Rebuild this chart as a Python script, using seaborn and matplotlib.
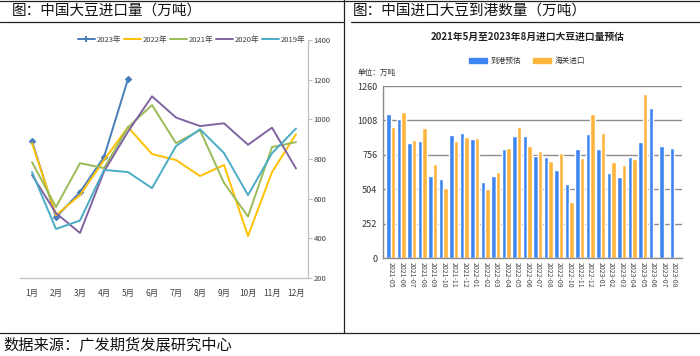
"""
中国大豆进口量 / 进口大豆到港数量 复刻
"""

import numpy as np
import pandas as pd
import matplotlib
matplotlib.use("Agg")
import matplotlib.pyplot as plt
from matplotlib.lines import Line2D
from matplotlib.patches import Patch
import seaborn as sns

sns.set_style("white")
plt.rcParams['font.family'] = ['Noto Sans CJK SC', 'DejaVu Sans']

# 左图：各年度月度进口量（万吨）
months = ["1月", "2月", "3月", "4月", "5月", "6月", "7月", "8月", "9月", "10月", "11月", "12月"]
y2023 = [890, 507, 633, 810, 1203]
y2022 = [880, 517, 618, 795, 961, 825, 795, 714, 770, 412, 734, 925]
y2021 = [784, 558, 779, 754, 960, 1072, 880, 945, 680, 510, 860, 885]
y2020 = [719, 527, 427, 737, 938, 1116, 1009, 966, 980, 872, 958, 752]
y2019 = [734, 447, 490, 745, 734, 653, 865, 950, 830, 618, 829, 954]

# 右图：到港预估 / 海关进口（万吨）
periods = ["2021-05", "2021-06", "2021-07", "2021-08", "2021-09", "2021-10", "2021-11",
           "2021-12", "2022-01", "2022-02", "2022-03", "2022-04", "2022-05", "2022-06",
           "2022-07", "2022-08", "2022-09", "2022-10", "2022-11", "2022-12", "2023-01",
           "2023-02", "2023-03", "2023-04", "2023-05", "2023-06", "2023-07", "2023-08"]
arrival = [1055, 1018, 842, 857, 600, 579, 901, 916, 872, 557, 600, 799, 894, 894,
           747, 742, 645, 542, 796, 906, 798, 625, 596, 742, 852, 1096, 820, 808]
customs = [960, 1070, 864, 952, 689, 513, 857, 886, 879, 505, 630, 806, 960, 820,
           784, 713, 772, 410, 730, 1053, 913, 701, 681, 723, 1199]

W, H = 700, 356
fig = plt.figure(figsize=(W / 100, H / 100), dpi=100)

def fx(px):
    return px / W

def fy(py):
    return 1 - py / H

# ---- 外框与标题 ----
for (x0, y0, x1, y1) in [(0, 1, 700, 1), (0, 22, 343, 22), (351, 22, 700, 22),
                         (344, 0, 344, 333), (0, 333, 700, 333)]:
    fig.add_artist(Line2D([fx(x0), fx(x1)], [fy(y0), fy(y1)], color="#222222", lw=0.9))

fig.text(fx(12), fy(11), "图：中国大豆进口量（万吨）", fontsize=10.5, va="center", color="#111111")
fig.text(fx(353), fy(11), "图：中国进口大豆到港数量（万吨）", fontsize=10.5, va="center", color="#111111")
fig.text(fx(3), fy(345), "数据来源：广发期货发展研究中心", fontsize=11, va="center", color="#111111")

# ---- 左图 ----
ax1 = fig.add_axes([fx(20), fy(278), fx(288), (278 - 40) / H])
series = [("2023年", y2023, "#4a7ebb"), ("2022年", y2022, "#ffc000"),
          ("2021年", y2021, "#9bbb59"), ("2020年", y2020, "#8064a2"),
          ("2019年", y2019, "#4bacc6")]
handles = []
for name, vals, col in series:
    mk = "D" if name == "2023年" else None
    sns.lineplot(x=np.arange(len(vals)), y=vals, ax=ax1, color=col, lw=1.4,
                 marker=mk, markersize=3.2, markeredgecolor=col)
    handles.append(Line2D([], [], color=col, lw=1.4, marker="+" if mk else None,
                          markersize=5, markeredgewidth=1.4))
ax1.set_xlim(-0.5, 11.5)
ax1.set_ylim(200, 1400)
ax1.set_yticks(range(200, 1401, 200))
ax1.yaxis.tick_right()
ax1.set_xticks(np.arange(-0.5, 12, 1), minor=False)
ax1.set_xticklabels([])
ax1.set_xticks(np.arange(12), minor=True)
ax1.set_xticklabels(months, minor=True)
ax1.tick_params(axis="x", which="major", length=4, color="#bfbfbf", width=0.8, direction="out")
ax1.tick_params(axis="x", which="minor", length=0, labelsize=6, pad=8, colors="#404040")
ax1.tick_params(axis="y", length=3, color="#bfbfbf", width=0.8, labelsize=5.5,
                labelcolor="#404040", direction="out", pad=1)
for s in ["top", "left"]:
    ax1.spines[s].set_visible(False)
for s in ["right", "bottom"]:
    ax1.spines[s].set_color("#bfbfbf")
    ax1.spines[s].set_linewidth(0.9)
ax1.set_xlabel("")
ax1.set_ylabel("")
ax1.legend(handles, [s[0] for s in series], loc="center right", bbox_to_anchor=(1.0, 1.0),
           ncol=5, frameon=False, fontsize=5.5, handlelength=2.2, columnspacing=0.4,
           handletextpad=0.2, labelcolor="#404040", borderaxespad=0)

# ---- 右图 ----
ax2 = fig.add_axes([fx(383), fy(258), fx(299), (258 - 86) / H])
df = pd.concat([
    pd.DataFrame({"月份": periods, "数量": arrival, "类型": "到港预估"}),
    pd.DataFrame({"月份": periods[:len(customs)], "数量": customs, "类型": "海关进口"}),
])
pal = {"到港预估": "#3d85f0", "海关进口": "#ffb53d"}
sns.barplot(data=df, x="月份", y="数量", hue="类型", order=periods, palette=pal,
            ax=ax2, width=0.85, gap=0.0, saturation=1, legend=False)
ax2.set_ylim(0, 1260)
ax2.set_xlim(-0.75, len(periods) - 0.25)
ax2.set_yticks([0, 252, 504, 756, 1008, 1260])
ax2.yaxis.grid(True, color="#8c8c8c", lw=1.0)
ax2.set_axisbelow(True)
ax2.tick_params(axis="y", length=3, color="#8c8c8c", labelsize=6.5, labelcolor="#333333", pad=1)
ax2.tick_params(axis="x", length=2, color="#8c8c8c", labelsize=5, labelcolor="#444444",
                rotation=-90, pad=1)
for s in ["top", "right"]:
    ax2.spines[s].set_visible(False)
for s in ["left", "bottom"]:
    ax2.spines[s].set_color("#8c8c8c")
    ax2.spines[s].set_linewidth(1.0)
ax2.set_xlabel("")
ax2.set_ylabel("")

fig.text(fx(528), fy(37), "2021年5月至2023年8月进口大豆进口量预估", fontsize=7, fontweight="bold",
         ha="center", va="center", color="#222222")
fig.text(fx(358), fy(73), "单位：万吨", fontsize=5.5, va="center", color="#333333")
leg_h = [Patch(color=pal["到港预估"]), Patch(color=pal["海关进口"])]
fig.legend(leg_h, ["到港预估", "海关进口"], loc="center", bbox_to_anchor=(fx(527), fy(61)),
           ncol=2, frameon=False, fontsize=5.5, handlelength=2.4, handleheight=0.7,
           columnspacing=1.5, handletextpad=0.5, labelcolor="#333333")

fig.savefig("out.png", dpi=100)
